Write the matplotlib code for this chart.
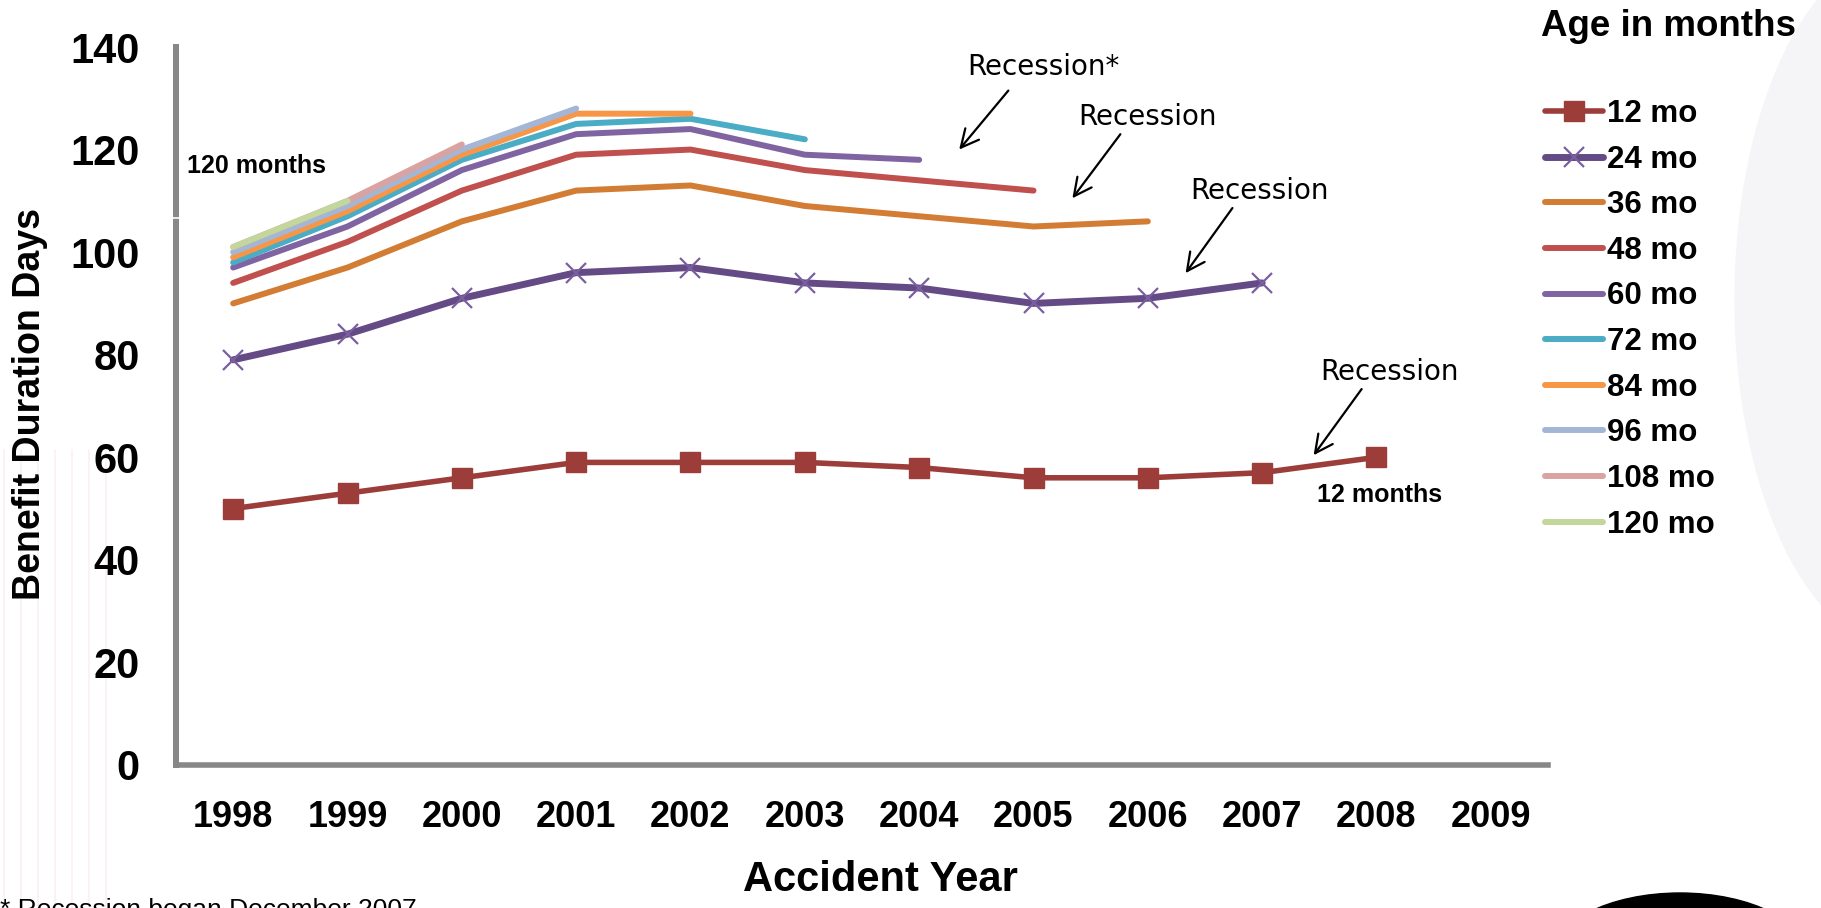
import numpy as np
import matplotlib.pyplot as plt
from matplotlib.lines import Line2D
from matplotlib.patches import Ellipse

plt.rcParams['font.family'] = ['Liberation Sans', 'DejaVu Sans']

# accident years on the x axis
years = ['1998', '1999', '2000', '2001', '2002', '2003', '2004', '2005', '2006', '2007', '2008', '2009']

# benefit duration days by age of evaluation (each series starts in 1998)
ages = ['12 mo', '24 mo', '36 mo', '48 mo', '60 mo', '72 mo', '84 mo', '96 mo', '108 mo', '120 mo']
mo12 = [50, 53, 56, 59, 59, 59, 58, 56, 56, 57, 60]
mo24 = [79, 84, 91, 96, 97, 94, 93, 90, 91, 94]
mo36 = [90, 97, 106, 112, 113, 109, 107, 105, 106]
mo48 = [94, 102, 112, 119, 120, 116, 114, 112]
mo60 = [97, 105, 116, 123, 124, 119, 118]
mo72 = [98, 107, 118, 125, 126, 122]
mo84 = [99, 108, 119, 127, 127]
mo96 = [100, 109, 120, 128]
mo108 = [101, 110, 121]
mo120 = [101, 110]
series = [mo12, mo24, mo36, mo48, mo60, mo72, mo84, mo96, mo108, mo120]

colors = ['#9C3D3A', '#644B86', '#D27C34', '#C0504D', '#8064A2',
          '#4BACC6', '#F79646', '#A3B6D6', '#D9A3A2', '#C3D69B']

W, H = 1821, 908
fig = plt.figure(figsize=(W / 100, H / 100), dpi=100)
fig.patch.set_facecolor('white')

# background decoration (faint slide artwork)
fig.add_artist(Ellipse((1905 / W, 1 - 300 / H), 340 / W, 700 / H,
                       transform=fig.transFigure, color='#f5f5f7', zorder=0))
fig.add_artist(Ellipse((1680 / W, 1 - 960 / H), 260 / W, 134 / H,
                       transform=fig.transFigure, color='black', zorder=0))
for px in range(4, 112, 17):
    fig.add_artist(Line2D([px / W, px / W], [0, 1 - 450 / H], transform=fig.transFigure,
                          color='#fbf0f3', lw=1.2, zorder=0))

ax = fig.add_axes([176 / W, 1 - 765 / H, (1548 - 176) / W, (765 - 47) / H])
ax.set_facecolor('none')

x = np.arange(len(years))
for i, (vals, c, lab) in enumerate(zip(series, colors, ages)):
    xs = x[:len(vals)]
    if i == 0:
        ax.plot(xs, vals, color=c, lw=4.0, marker='s', ms=14, mec=c, label=lab,
                solid_capstyle='round')
    elif i == 1:
        ax.plot(xs, vals, color=c, lw=5.0, marker='x', ms=15, mec='#7A5FA0', mew=1.6,
                label=lab, solid_capstyle='round')
    else:
        ax.plot(xs, vals, color=c, lw=4.3, label=lab, solid_capstyle='round')

ax.set_xlim(-0.5, 11.5)
ax.set_ylim(0, 140)
ax.set_xticks(x)
ax.set_xticklabels(years)
ax.set_yticks(np.arange(0, 141, 20))
ax.tick_params(axis='both', length=0)
ax.tick_params(axis='x', labelsize=26, pad=25)
ax.tick_params(axis='y', labelsize=30, pad=26)
for t in ax.get_xticklabels() + ax.get_yticklabels():
    t.set_fontweight('bold')

for s in ['top', 'right']:
    ax.spines[s].set_visible(False)
ax.spines['left'].set_color('#878787')
ax.spines['left'].set_linewidth(4.3)
ax.spines['bottom'].set_color('#878787')
ax.spines['bottom'].set_linewidth(4.0)
# small break in the left axis line
fig.add_artist(Line2D([170 / W, 182 / W], [1 - 218 / H, 1 - 218 / H], transform=fig.transFigure,
                      color='white', lw=1.2, zorder=5))

fig.text(30 / W, 1 - 404 / H, 'Benefit Duration Days', rotation=90, ha='center', va='center',
         fontsize=27, fontweight='bold')
fig.text(880 / W, 1 - 880 / H, 'Accident Year', ha='center', va='center',
         fontsize=30, fontweight='bold')
fig.text(0.0, (H - 917) / H, '* Recession began December 2007', ha='left', va='baseline',
         fontsize=19)

# annotations
ax.text(0.2, 116.8, '120 months', ha='center', va='center', fontsize=18, fontweight='bold')
ax.text(10.03, 52.6, '12 months', ha='center', va='center', fontsize=18, fontweight='bold')

notes = [('Recession*', 7.09, 136.1, (6.78, 131.5), (6.35, 120.0)),
         ('Recession', 8.0, 126.3, (7.76, 123.0), (7.34, 110.5)),
         ('Recession', 8.98, 111.9, (8.74, 108.6), (8.33, 95.9)),
         ('Recession', 10.11, 76.6, (9.87, 73.3), (9.45, 60.4))]
for txt, tx, ty, start, end in notes:
    ax.text(tx, ty, txt, ha='center', va='center', fontsize=20, family='DejaVu Sans')
    ax.annotate('', xy=end, xytext=start,
                arrowprops=dict(arrowstyle='->', lw=1.6, color='black', mutation_scale=32,
                                shrinkA=0, shrinkB=0))

# legend
fig.text(1541 / W, 1 - 36 / H, 'Age in months', ha='left', va='baseline',
         fontsize=26.5, fontweight='bold')
handles, labels = ax.get_legend_handles_labels()
leg = fig.legend(handles, labels, loc='upper left', bbox_to_anchor=(1545 / W, 1 - 99 / H),
                 frameon=False, borderpad=0, borderaxespad=0, handlelength=1.86,
                 handletextpad=0.13, labelspacing=0.5, numpoints=1,
                 prop={'size': 22.5, 'weight': 'bold'})

fig.savefig('out.png', dpi=100)
